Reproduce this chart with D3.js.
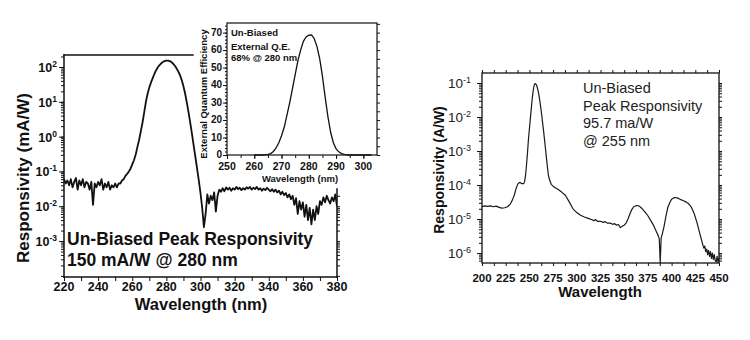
<!DOCTYPE html>
<html lang="en">
<head>
<meta charset="utf-8">
<script src="https://d3js.org/d3.v7.min.js"></script>
<style>
    body { margin: 0; background: #fff; }
    text { font-family: "Liberation Sans", Arial, sans-serif; fill: #111; }
</style>
</head>
<body>
<svg id="fig" width="750" height="340"></svg>
<script>
// ---- left chart: responsivity (mA/W), 1 nm steps from 220 to 380 nm
var leftStart = 220;
var leftResp = [
    0.06, 0.045, 0.055, 0.04, 0.06, 0.035, 0.05, 0.065, 0.03, 0.055,
    0.04, 0.06, 0.035, 0.05, 0.045, 0.03, 0.05, 0.011, 0.045, 0.035,
    0.05, 0.04, 0.06, 0.03, 0.045, 0.035, 0.05, 0.03, 0.04, 0.035,
    0.045, 0.035, 0.045, 0.045, 0.055, 0.06, 0.075, 0.085, 0.1, 0.12,
    0.16, 0.21, 0.3, 0.5, 0.8, 1.4, 2.5, 5, 10, 17,
    26, 36, 48, 64, 81, 98, 114, 128, 140, 148,
    152, 152, 148, 138, 124, 108, 90, 74, 58, 42,
    28, 17, 9.5, 5, 2.5, 1.2, 0.55, 0.26, 0.12, 0.055,
    0.024, 0.009, 0.0025, 0.006, 0.022, 0.012, 0.02, 0.015, 0.025, 0.007,
    0.02, 0.03, 0.026, 0.033, 0.027, 0.035, 0.03, 0.034, 0.028, 0.033,
    0.03, 0.036, 0.031, 0.034, 0.029, 0.033, 0.03, 0.035, 0.032, 0.036,
    0.03, 0.034, 0.031, 0.036, 0.03, 0.033, 0.028, 0.032, 0.029, 0.034,
    0.03, 0.027, 0.031, 0.026, 0.03, 0.025, 0.028, 0.022, 0.026, 0.021,
    0.024, 0.018, 0.022, 0.016, 0.02, 0.011, 0.017, 0.006, 0.014, 0.008,
    0.013, 0.005, 0.011, 0.004, 0.009, 0.003, 0.008, 0.004, 0.01, 0.006,
    0.014, 0.011, 0.018, 0.013, 0.02, 0.015, 0.012, 0.018, 0.014, 0.022,
    0.01
];
var leftXTicks = [220, 240, 260, 280, 300, 320, 340, 360, 380];
var leftYExp = [2, 1, 0, -1, -2, -3];
var leftNote = ["Un-Biased Peak Responsivity", "150 mA/W @ 280 nm"];

// ---- inset: external quantum efficiency (%), 1 nm steps from 260 nm
var insetStart = 260;
var insetQE = [
    0, 0, 0, 0, 0.1, 0.3, 0.8, 2, 4, 7,
    11, 16, 23, 30, 38, 46, 54, 60, 65, 67.5,
    68.5, 68.7, 66.5, 62, 55, 45, 33, 22, 13, 7,
    3.5, 1.8, 0.8, 0.3, 0.1, 0, 0, 0, 0, 0,
    0, 0, 0, 0
];
var insetXTicks = [250, 260, 270, 280, 290, 300];
var insetYTicks = [0, 10, 20, 30, 40, 50, 60, 70];
var insetNote = ["Un-Biased", "External Q.E.", "68% @ 280 nm"];

// ---- right chart: responsivity (A/W)
var rightWl = [
    200, 203, 206, 209, 212, 215, 218, 221, 224, 227,
    230, 232, 234, 236, 238, 240, 242, 244, 245, 246,
    247, 248, 249, 250, 251, 252, 253, 254, 255, 256,
    257, 258, 259, 260, 261, 262, 263, 264, 265, 266,
    267, 268, 269, 270, 271, 273, 276, 280, 284, 288,
    292, 296, 300, 304, 308, 312, 316, 318, 320, 322,
    325, 328, 330, 332, 335, 338, 340, 342, 344, 346,
    348, 350, 352, 354, 356, 358, 360, 363, 366, 369,
    372, 375, 378, 381, 384, 386, 387, 388, 389, 390,
    392, 394, 396, 398, 400, 403, 406, 409, 412, 415,
    418, 421, 424, 427, 429, 431, 433, 434, 435, 436,
    437, 438, 439, 440, 441, 442, 443, 444, 445, 446,
    447, 448, 449, 450
];
var rightResp = [
    2.3e-5, 2.45e-5, 2.35e-5, 2.45e-5, 2.3e-5, 2.4e-5, 2.2e-5, 2.1e-5, 2.15e-5, 2.3e-5,
    2.8e-5, 3.6e-5, 5e-5, 8e-5, 1.1e-4, 1.2e-4, 1.1e-4, 1.1e-4, 1.3e-4, 2e-4,
    4e-4, 9e-4, 2.2e-3, 4.5e-3, 9e-3, 1.8e-2, 3.5e-2, 6e-2, 8.6e-2, 9.6e-2,
    9.2e-2, 8e-2, 6.2e-2, 4.5e-2, 3e-2, 1.9e-2, 1.15e-2, 6.5e-3, 3.8e-3, 2.1e-3,
    1.15e-3, 6.2e-4, 3.4e-4, 2e-4, 1.5e-4, 1.05e-4, 8.7e-5, 7.5e-5, 6.2e-5, 5e-5,
    3.2e-5, 2e-5, 1.55e-5, 1.3e-5, 1.15e-5, 1.05e-5, 9.5e-6, 9e-6, 9.6e-6, 8.5e-6,
    8.6e-6, 8e-6, 8.4e-6, 7.6e-6, 7.6e-6, 7e-6, 7.3e-6, 6.6e-6, 6.9e-6, 5.6e-6,
    6.2e-6, 6.6e-6, 7.6e-6, 1e-5, 1.4e-5, 1.9e-5, 2.3e-5, 2.5e-5, 2.4e-5, 2e-5,
    1.6e-5, 1.25e-5, 9e-6, 6.5e-6, 4.2e-6, 3.2e-6, 2.6e-6, 5.2e-7, 2.8e-6, 3.5e-6,
    6e-6, 1.2e-5, 2.2e-5, 3e-5, 3.8e-5, 4.3e-5, 4.2e-5, 3.8e-5, 3.5e-5, 3.2e-5,
    2.8e-5, 2.2e-5, 1.4e-5, 7.5e-6, 4.5e-6, 2.8e-6, 1.7e-6, 1.4e-6, 1.6e-6, 1.1e-6,
    1.3e-6, 9e-7, 1.2e-6, 8e-7, 1.1e-6, 7e-7, 1e-6, 6.5e-7, 9e-7, 6e-7,
    5.5e-7, 8e-7, 5.3e-7, 7e-7
];
var rightXTicks = [200, 225, 250, 275, 300, 325, 350, 375, 400, 425, 450];
var rightYExp = [-1, -2, -3, -4, -5, -6];
var rightNote = ["Un-Biased", "Peak Responsivity", "95.7 ma/W", "@ 255 nm"];

var svg = d3.select("#fig");
var ink = "#111";

// minor ticks for a log scale: 1..9 x 10^e inside the domain
function logMinor(scale) {
    var d = scale.domain(), out = [];
    for (var e = Math.floor(Math.log10(d[0])); e <= Math.ceil(Math.log10(d[1])); e++) {
        for (var m = 1; m < 10; m++) {
            var v = m * Math.pow(10, e);
            if (v >= d[0] && v <= d[1]) out.push(v);
        }
    }
    return out;
}

function drawAxis(axis, x, y) {
    var g = svg.append("g").attr("transform", "translate(" + x + "," + y + ")").call(axis);
    g.select(".domain").remove();
    g.selectAll("line").attr("stroke", ink).attr("stroke-width", 1);
    g.selectAll("text").remove();
    return g;
}

function line(x1, y1, x2, y2, w) {
    svg.append("line").attr("x1", x1).attr("y1", y1).attr("x2", x2).attr("y2", y2)
        .attr("stroke", ink).attr("stroke-width", w).attr("stroke-linecap", "square");
}

function powLabels(scale, exps, x, o) {
    exps.forEach(function(e) {
        var t = svg.append("text").attr("x", x).attr("y", scale(Math.pow(10, e)) + o.dy)
            .attr("text-anchor", "end")
            .style("font-size", o.size + "px").style("font-weight", o.weight).style("fill", o.color);
        t.append("tspan").text("10");
        t.append("tspan").attr("dy", -o.raise).style("font-size", o.sup + "px").text(e);
    });
}

function label(txt, x, y, size, weight, anchor, rotate) {
    var t = svg.append("text").attr("text-anchor", anchor || "start")
        .style("font-size", size + "px").style("font-weight", weight).text(txt);
    if (rotate) t.attr("transform", "translate(" + x + "," + y + ") rotate(-90)");
    else t.attr("x", x).attr("y", y);
    return t;
}

// ================= left chart =================
var lx = d3.scaleLinear().domain([220, 380]).range([64, 337]);
var ly = d3.scaleLog().domain([9.3e-5, 221]).range([277, 55]);

svg.append("clipPath").attr("id", "clipL").append("rect")
    .attr("x", 64).attr("y", 55).attr("width", 273).attr("height", 222);

svg.append("path")
    .datum(leftResp)
    .attr("clip-path", "url(#clipL)")
    .attr("fill", "none").attr("stroke", ink).attr("stroke-width", 1.8)
    .attr("stroke-linejoin", "round")
    .attr("d", d3.line()
        .x(function(d, i) { return lx(leftStart + i); })
        .y(function(d) { return ly(d); }));

drawAxis(d3.axisBottom(lx).tickValues(d3.range(220, 381, 10)).tickSize(4).tickSizeOuter(0), 0, 277);
drawAxis(d3.axisLeft(ly).tickValues(logMinor(ly)).tickSize(3).tickSizeOuter(0), 64, 0);
drawAxis(d3.axisLeft(ly).tickValues(leftYExp.map(function(e) { return Math.pow(10, e); })).tickSize(5).tickSizeOuter(0), 64, 0);
drawAxis(d3.axisRight(ly).tickValues(logMinor(ly).filter(function(v) { return ly(v) > 190; })).tickSize(3).tickSizeOuter(0), 337, 0);

line(64, 55, 64, 277, 1.5);
line(64, 277, 337, 277, 1.5);
line(64, 55, 193, 55, 1.5);
line(337, 189, 337, 277, 1.5);

leftXTicks.forEach(function(v) {
    label(v, lx(v), 291, 12.5, "bold", "middle");
});
powLabels(ly, leftYExp, 57, { dy: 5, size: 12.5, sup: 8.5, raise: 5, weight: "bold", color: ink });
label("Wavelength (nm)", 201, 310, 16.5, "bold", "middle");
label("Responsivity (mA/W)", 29, 178, 17, "bold", "middle", true);
leftNote.forEach(function(s, i) {
    label(s, 67, 245 + i * 21, 17.5, "bold");
});

// ================= inset =================
var ix = d3.scaleLinear().domain([250, 305]).range([227, 377]);
var iy = d3.scaleLinear().domain([0, 75.5]).range([155, 23]);

svg.append("path")
    .datum(insetQE)
    .attr("fill", "none").attr("stroke", ink).attr("stroke-width", 1.3)
    .attr("d", d3.line()
        .x(function(d, i) { return ix(insetStart + i); })
        .y(function(d) { return iy(d); }));

drawAxis(d3.axisBottom(ix).tickValues(d3.range(250, 305, 5)).tickSize(3).tickSizeOuter(0), 0, 155);
drawAxis(d3.axisBottom(ix).tickValues(insetXTicks).tickSize(4).tickSizeOuter(0), 0, 155);
drawAxis(d3.axisLeft(iy).tickValues(d3.range(0, 76, 2)).tickSize(2).tickSizeOuter(0), 227, 0);
drawAxis(d3.axisLeft(iy).tickValues(insetYTicks).tickSize(4).tickSizeOuter(0), 227, 0);
drawAxis(d3.axisRight(iy).tickValues(d3.range(0, 76, 5)).tickSize(3).tickSizeOuter(0), 377, 0);

svg.append("rect").attr("x", 227).attr("y", 23).attr("width", 150).attr("height", 132)
    .attr("fill", "none").attr("stroke", ink).attr("stroke-width", 1.2);

insetXTicks.forEach(function(v) {
    label(v, ix(v), 170, 10.5, "bold", "middle");
});
insetYTicks.forEach(function(v) {
    label(v, 222, iy(v) + 3, 10, "bold", "end");
});
label("Wavelength (nm)", 300, 182, 9.5, "bold", "middle");
label("External Quantum Efficiency", 207, 94, 9.5, "bold", "middle", true);
insetNote.forEach(function(s, i) {
    label(s, 231, [36, 50, 61][i], 9.5, "bold");
});

// ================= right chart =================
var rx = d3.scaleLinear().domain([200, 450]).range([482, 719]);
var ry = d3.scaleLog().domain([5.1e-7, 0.197]).range([263, 73]);

svg.append("clipPath").attr("id", "clipR").append("rect")
    .attr("x", 482).attr("y", 73).attr("width", 237).attr("height", 190);

svg.append("path")
    .datum(d3.zip(rightWl, rightResp))
    .attr("clip-path", "url(#clipR)")
    .attr("fill", "none").attr("stroke", "#1a1a1a").attr("stroke-width", 1.2)
    .attr("stroke-linejoin", "round")
    .attr("d", d3.line()
        .x(function(d) { return rx(d[0]); })
        .y(function(d) { return ry(d[1]); }));

drawAxis(d3.axisBottom(rx).tickValues(d3.range(200, 451, 12.5)).tickSize(3).tickSizeOuter(0), 0, 263);
drawAxis(d3.axisBottom(rx).tickValues(d3.range(200, 451, 12.5)).tickSize(-3).tickSizeOuter(0), 0, 73);
drawAxis(d3.axisLeft(ry).tickValues(logMinor(ry)).tickSize(3).tickSizeOuter(0), 482, 0);
drawAxis(d3.axisLeft(ry).tickValues(rightYExp.map(function(e) { return Math.pow(10, e); })).tickSize(5).tickSizeOuter(0), 482, 0);
drawAxis(d3.axisRight(ry).tickValues(logMinor(ry)).tickSize(3).tickSizeOuter(0), 719, 0);

svg.append("rect").attr("x", 482).attr("y", 73).attr("width", 237).attr("height", 190)
    .attr("fill", "none").attr("stroke", ink).attr("stroke-width", 1.3);

rightXTicks.forEach(function(v) {
    label(v, rx(v), 282, 11.5, "bold", "middle");
});
powLabels(ry, rightYExp, 471, { dy: 5, size: 13.5, sup: 9, raise: 5, weight: "normal", color: "#222" });
label("Wavelength", 600, 297, 15, "bold", "middle");
label("Responsivity (A/W)", 444, 170, 14, "bold", "middle", true);
rightNote.forEach(function(s, i) {
    label(s, 583, 93 + i * 17.7, 14.5, "normal").style("fill", "#222");
});
</script>
</body>
</html>
